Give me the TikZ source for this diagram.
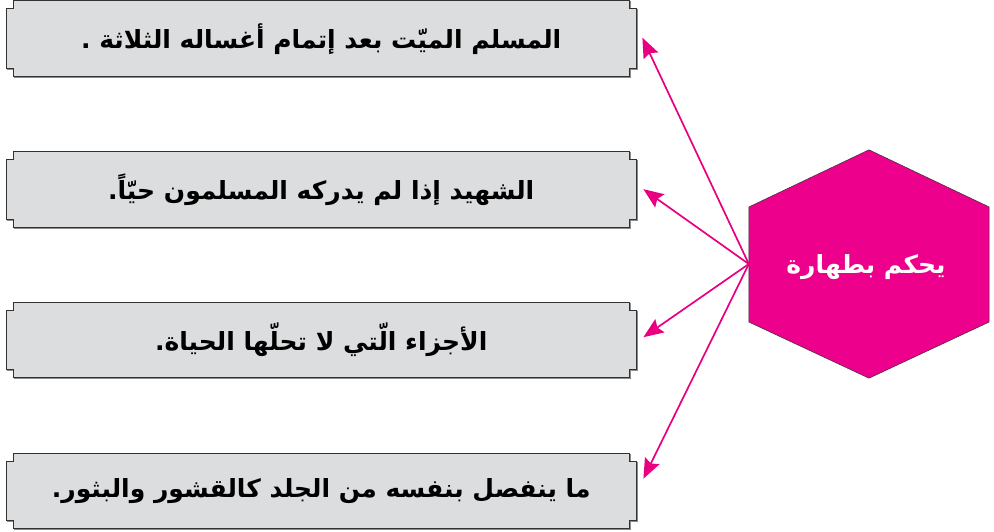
\documentclass[tikz,border=0pt]{standalone}
\usepackage{fontspec}
\newfontfamily\arabicfont[Script=Arabic]{DejaVu Sans}
\TeXXeTstate=1
\usetikzlibrary{arrows.meta,calc,backgrounds}
\definecolor{boxfill}{RGB}{220,221,222}
\definecolor{boxline}{RGB}{50,50,50}
\definecolor{shadowgray}{RGB}{140,140,140}
\definecolor{hexfill}{RGB}{236,0,140}
\definecolor{arrcol}{RGB}{232,0,128}
\tikzset{
  textbox/.style={minimum width=630pt,minimum height=75pt,inner sep=0pt,anchor=north west,
    font=\arabicfont\bfseries\fontsize{25}{30}\selectfont,text=black},
  notchline/.style={draw=boxline,line width=1pt,fill=boxfill,line join=miter},
  notchshadow/.style={draw=shadowgray,line width=1.4pt},
  hexlabel/.style={font=\arabicfont\bfseries\fontsize{25}{30}\selectfont,text=white,inner sep=0pt},
  arr/.style={draw=arrcol,line width=1.7pt,-{Stealth[length=20pt,width=16pt,inset=3pt]}},
}
\begin{document}
\begin{tikzpicture}[x=1pt,y=-1pt]
\useasboundingbox (0,0) rectangle (994,532);
% boxes (text nodes)
\node[textbox] (b1) at (6,1)   {\beginR المسلم الميّت بعد إتمام أغساله الثلاثة .\endR};
\node[textbox] (b2) at (6,152) {\beginR الشهيد إذا لم يدركه المسلمون حيّاً.\endR};
\node[textbox] (b3) at (6,302) {\beginR الأجزاء الّتي لا تحلّها الحياة.\endR};
\node[textbox] (b4) at (6,453) {\beginR ما ينفصل بنفسه من الجلد كالقشور والبثور.\endR};
% notched frames behind the texts
\begin{scope}[on background layer]
\foreach \b in {b1,b2,b3,b4}{
  \begin{scope}[transform canvas={shift={(1.2pt,-1.2pt)}}]
  \draw[notchshadow] ($(\b.north west)+(7,0)$) -- ($(\b.north east)+(-7,0)$) -- ++(0,8) -- ++(7,0)
    -- ($(\b.south east)+(0,-8)$) -- ++(-7,0) -- ++(0,8) -- ($(\b.south west)+(7,0)$) -- ++(0,-8)
    -- ++(-7,0) -- ($(\b.north west)+(0,8)$) -- ++(7,0) -- cycle;
  \end{scope}
  \draw[notchline] ($(\b.north west)+(7,0)$) -- ($(\b.north east)+(-7,0)$) -- ++(0,8) -- ++(7,0)
    -- ($(\b.south east)+(0,-8)$) -- ++(-7,0) -- ++(0,8) -- ($(\b.south west)+(7,0)$) -- ++(0,-8)
    -- ++(-7,0) -- ($(\b.north west)+(0,8)$) -- ++(7,0) -- cycle;
}
\end{scope}
% hexagon
\node[minimum width=240pt,minimum height=228pt,inner sep=0pt] (hex) at (869,264) {};
\fill[hexfill,draw=boxline,line width=0.5pt] (hex.north) -- ($(hex.east)+(0,-57)$) -- ($(hex.east)+(0,58)$)
  -- (hex.south) -- ($(hex.west)+(0,58)$) -- ($(hex.west)+(0,-57)$) -- cycle;
\node[hexlabel] (lbl) at (866,267) {\beginR يحكم بطهارة\endR};
\coordinate (src) at (hex.west);
% connectors
\draw[arr] (src) -- ($(b1.east)+(6,-1)$);
\draw[arr] (src) -- ($(b2.east)+(7,-0.5)$);
\draw[arr] (src) -- ($(b3.east)+(7,-2.5)$);
\draw[arr] (src) -- ($(b4.east)+(7,-12)$);
\end{tikzpicture}
\end{document}
